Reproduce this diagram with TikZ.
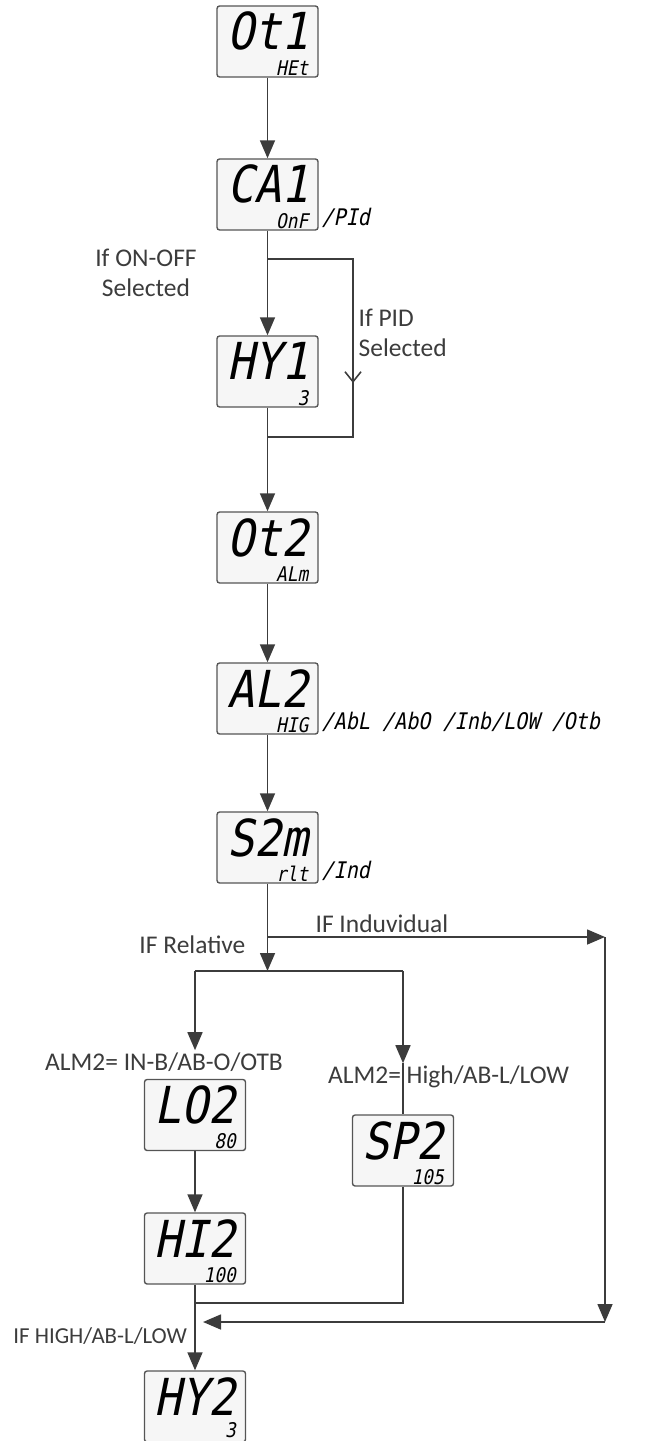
\documentclass[tikz,border=0pt]{standalone}
\usepackage{fontspec}
\usepackage{tikz}
\usetikzlibrary{arrows.meta, calc, positioning}
\newfontfamily\lblfont{Carlito}
\newfontfamily\lcdfont{DejaVu Sans Mono}[FakeSlant=0.2, FakeStretch=0.88]
\definecolor{darkgray}{RGB}{60, 60, 60}
\definecolor{lcdgray}{RGB}{85, 85, 85}
\definecolor{lcdfill}{RGB}{246, 246, 246}

\begin{document}
\begin{tikzpicture}[
    lcd/.style={draw=lcdgray, fill=lcdfill, line width=0.8pt, rounded corners=1.5pt, minimum width=2.02cm, minimum height=1.42cm, inner sep=0.1cm, text height=0.78cm, text depth=0.44cm, font=\lcdfont\fontsize{29}{30}\selectfont},
    lcdval/.style={anchor=south east, xshift=-0.16cm, inner sep=0.04cm, font=\lcdfont\fontsize{11.5}{12}\selectfont},
    lcdopt/.style={anchor=south west, inner sep=0.05cm, font=\lcdfont\fontsize{13}{14}\selectfont},
    lbl/.style={text=darkgray, inner sep=1pt, font=\lblfont\fontsize{14.5}{17}\selectfont},
    line/.style={draw=darkgray, line width=0.9pt},
    arr/.style={line, -{Triangle[length=3.6mm, width=3mm]}},
    barb/.style={line, -{Straight Barb[length=2mm, width=3.2mm]}}
]
    \useasboundingbox (0,0) rectangle (13.12,-28.82);
    \clip (0,0) rectangle (13.12,-28.82);

    % displays
    \node [lcd] (ot1) at (5.35,-0.83) {Ot1};
    \node [lcdval] (ot1-val) at (ot1.south east) {HEt};
    \node [lcd] (ca1) at (5.35,-3.89) {CA1};
    \node [lcdval] (ca1-val) at (ca1.south east) {OnF};
    \node [lcdopt] (ca1-opt) at (ca1.south east) {/PId};
    \node [lcd] (hy1) at (5.35,-7.43) {HY1};
    \node [lcdval] (hy1-val) at (hy1.south east) {3};
    \node [lcd] (ot2) at (5.35,-10.95) {Ot2};
    \node [lcdval] (ot2-val) at (ot2.south east) {ALm};
    \node [lcd] (al2) at (5.35,-13.97) {AL2};
    \node [lcdval] (al2-val) at (al2.south east) {HIG};
    \node [lcdopt] (al2-opt) at (al2.south east) {/AbL /AbO /Inb/LOW /Otb};
    \node [lcd] (s2m) at (5.35,-16.95) {S2m};
    \node [lcdval] (s2m-val) at (s2m.south east) {rlt};
    \node [lcdopt] (s2m-opt) at (s2m.south east) {/Ind};
    \node [lcd] (lo2) at (3.90,-22.30) {LO2};
    \node [lcdval] (lo2-val) at (lo2.south east) {80};
    \node [lcd] (sp2) at (8.06,-23.01) {SP2};
    \node [lcdval] (sp2-val) at (sp2.south east) {105};
    \node [lcd] (hi2) at (3.90,-24.97) {HI2};
    \node [lcdval] (hi2-val) at (hi2.south east) {100};
    \node [lcd] (hy2) at (3.90,-28.13) {HY2};
    \node [lcdval, yshift=0.06cm] (hy2-val) at (hy2.south east) {3};

    % labels
    \node [lbl, align=center] (onoff) at (2.92,-5.45) {If ON-OFF\\Selected};
    \node [lbl, align=left, anchor=west] (pid) at (7.13,-6.66) {If PID\\Selected};
    \node [lbl, anchor=base west] (indiv) at (6.27,-18.64) {IF Induvidual};
    \node [lbl, anchor=base east] (relat) at (4.95,-19.06) {IF Relative};
    \node [lbl, anchor=base] (alm-lo) at (3.28,-21.40) {ALM2= IN-B/AB-O/OTB};
    \node [lbl, anchor=base west] (alm-hi) at (6.52,-21.66) {ALM2= High/AB-L/LOW};
    \node [lbl, anchor=base east, font=\lblfont\fontsize{13}{15}\selectfont] (highlow) at (3.78,-26.86) {IF HIGH/AB-L/LOW};

    \coordinate (pidtop) at (7.06,-5.18);
    \coordinate (pidmid) at (7.06,-7.66);
    \coordinate (pidbot) at (7.06,-8.74);
    \coordinate (indtop) at (12.10,-18.74);
    \coordinate (indbot) at (12.10,-26.44);
    \coordinate (indjoin) at (4.06,-26.44);
    \coordinate (relsplit) at (5.35,-19.42);
    \coordinate (merge) at (3.90,-26.06);

    \draw [arr] (ot1) -- (ca1);
    \draw [arr] (ca1) -- (hy1);
    \draw [line] (ca1 |- pidtop) -- (pidtop) -- (pidbot) -- (hy1 |- pidbot);
    \draw [barb] (pidtop) -- (pidmid);
    \draw [arr] (hy1) -- (ot2);
    \draw [arr] (ot2) -- (al2);
    \draw [arr] (al2) -- (s2m);

    \draw [arr] (s2m) -- (relsplit);
    \draw [arr] (s2m |- indtop) -- (indtop);
    \draw [line] (lo2 |- relsplit) -- (sp2 |- relsplit);
    \draw [arr] (lo2 |- relsplit) -- (alm-lo.north -| lo2);
    \draw [arr] (sp2 |- relsplit) -- (alm-hi.north -| sp2);
    \draw [line] (alm-hi.north -| sp2) -- (sp2);
    \draw [arr] (lo2) -- (hi2);
    \draw [line] (sp2) -- (sp2 |- merge) -- (merge);
    \draw [arr] (hi2) -- (hy2);
    \draw [arr] (indtop) -- (indbot);
    \draw [arr] (indbot) -- (indjoin);

\end{tikzpicture}
\end{document}
